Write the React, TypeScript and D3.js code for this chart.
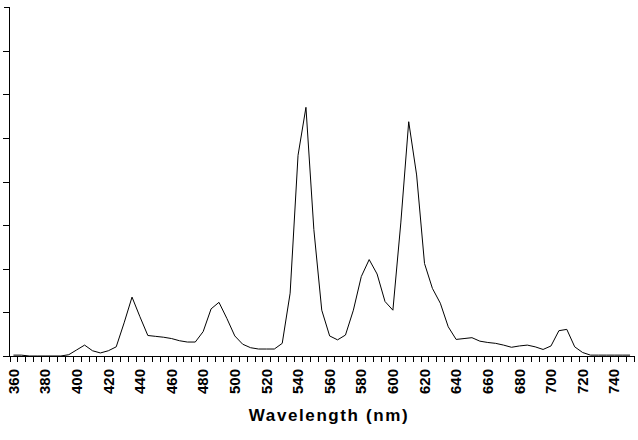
import React from "react";
import * as d3 from "d3";

const wavelengths: number[] = [
  360, 365, 370, 375, 380, 385, 390, 395, 400, 405, 410, 415, 420, 425, 430, 435,
  440, 445, 450, 455, 460, 465, 470, 475, 480, 485, 490, 495, 500, 505, 510, 515,
  520, 525, 530, 535, 540, 545, 550, 555, 560, 565, 570, 575, 580, 585, 590, 595,
  600, 605, 610, 615, 620, 625, 630, 635, 640, 645, 650, 655, 660, 665, 670, 675,
  680, 685, 690, 695, 700, 705, 710, 715, 720, 725, 730, 735, 740, 745, 750,
];

const intensity: number[] = [
  0.02, 0.02, 0, 0, 0, 0, 0, 0.03, 0.14, 0.25, 0.12, 0.07, 0.12, 0.21, 0.76, 1.35,
  0.9, 0.47, 0.45, 0.43, 0.4, 0.35, 0.32, 0.32, 0.56, 1.08, 1.23, 0.86, 0.46, 0.27, 0.19, 0.16,
  0.16, 0.16, 0.29, 1.44, 4.6, 5.7, 2.9, 1.05, 0.46, 0.37, 0.48, 1.05, 1.82, 2.21, 1.88, 1.25,
  1.05, 3.05, 5.37, 4.15, 2.12, 1.55, 1.21, 0.67, 0.38, 0.4, 0.42, 0.34, 0.31, 0.29, 0.25, 0.2,
  0.23, 0.25, 0.21, 0.15, 0.23, 0.58, 0.61, 0.21, 0.08, 0.02, 0.02, 0.02, 0.02, 0.02, 0.02,
];

const labelWavelengths: number[] = [
  360, 380, 400, 420, 440, 460, 480, 500, 520, 540, 560, 580, 600, 620, 640, 660, 680, 700, 720, 740,
];

const yTicks: number[] = [0, 1, 2, 3, 4, 5, 6, 7, 8];

const xTitle = "Wavelength (nm)";

const W = 638;
const H = 440;
const left = 9.5;
const right = 634;
const top = 7;
const bottom = 356;

export default function App() {
  const x = d3
    .scaleBand<number>()
    .domain(wavelengths)
    .range([left, right])
    .paddingInner(0)
    .paddingOuter(0);
  const y = d3.scaleLinear().domain([0, 8]).range([bottom, top]);
  const bw = x.bandwidth();

  const line = d3
    .line<number>()
    .x((_, i) => (x(wavelengths[i]) as number) + bw / 2)
    .y((v) => y(v));

  const boundaries = wavelengths.map((w) => x(w) as number).concat([right]);

  return (
    <svg
      width={W}
      height={H}
      style={{ position: "absolute", left: 0, top: 0, background: "#fff" }}
      fontFamily="Liberation Sans, Arial, sans-serif"
    >
      <rect x={0} y={0} width={W} height={H} fill="#fff" />
      {/* y axis */}
      <line x1={left} x2={left} y1={top} y2={bottom} stroke="#000" strokeWidth={1} shapeRendering="crispEdges" />
      {yTicks.map((t) => (
        <line
          key={"yt" + t}
          x1={t === 8 ? 4 : 3}
          x2={left}
          y1={Math.round(y(t)) + 0.5}
          y2={Math.round(y(t)) + 0.5}
          stroke="#000"
          strokeWidth={1}
          shapeRendering="crispEdges"
        />
      ))}
      {/* x axis */}
      <line x1={left} x2={right} y1={bottom + 0.5} y2={bottom + 0.5} stroke="#000" strokeWidth={1} shapeRendering="crispEdges" />
      {boundaries.map((b, i) => (
        <line
          key={"xt" + i}
          x1={Math.round(b) + 0.5}
          x2={Math.round(b) + 0.5}
          y1={bottom}
          y2={bottom + 6}
          stroke="#000"
          strokeWidth={1}
          shapeRendering="crispEdges"
        />
      ))}
      {labelWavelengths.map((w) => {
        const cx = (x(w) as number) + bw / 2;
        return (
          <text
            key={"xl" + w}
            transform={`translate(${cx + 5.2},369) rotate(-90)`}
            textAnchor="end"
            fontSize={15}
            fontWeight="bold"
            fill="#000"
          >
            {w}
          </text>
        );
      })}
      <path d={line(intensity) || ""} fill="none" stroke="#000" strokeWidth={1} />
      <text
        x={329}
        y={420.5}
        textAnchor="middle"
        fontSize={17}
        fontWeight="bold"
        letterSpacing={1.6}
        fill="#000"
      >
        {xTitle}
      </text>
    </svg>
  );
}
